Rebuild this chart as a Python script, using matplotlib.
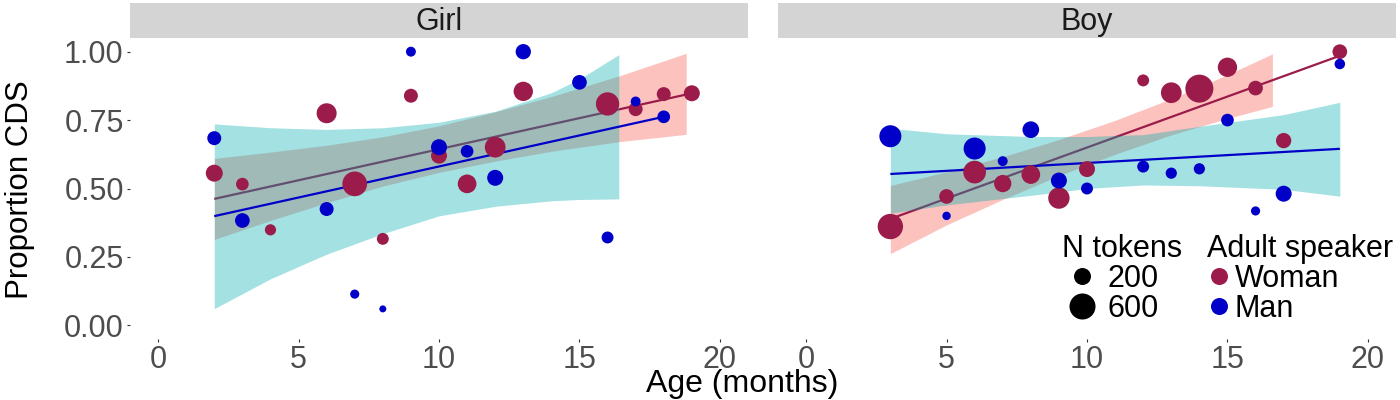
import numpy as np
import matplotlib
matplotlib.use("Agg")
import matplotlib.pyplot as plt
from matplotlib.lines import Line2D

plt.rcParams['font.family'] = ['Liberation Sans', 'DejaVu Sans']

# ---- data ----
girl_woman_age = [2, 3, 4, 6, 7, 8, 9, 10, 11, 12, 13, 16, 17, 18, 19]
girl_woman_cds = [0.556, 0.516, 0.349, 0.775, 0.517, 0.316, 0.839, 0.620, 0.517, 0.651, 0.855, 0.809, 0.790, 0.845, 0.848]
girl_woman_tok = [200, 97, 75, 306, 527, 85, 122, 171, 257, 334, 280, 453, 122, 122, 171]

girl_man_age = [2, 3, 6, 7, 8, 9, 10, 11, 12, 13, 15, 16, 17, 18]
girl_man_cds = [0.684, 0.383, 0.425, 0.114, 0.060, 1.00, 0.651, 0.636, 0.539, 1.00, 0.888, 0.321, 0.818, 0.762]
girl_man_tok = [122, 138, 122, 55, 48, 61, 171, 97, 171, 153, 138, 85, 61, 97]

boy_woman_age = [3, 5, 6, 7, 8, 9, 10, 12, 13, 14, 15, 16, 17, 19]
boy_woman_cds = [0.361, 0.471, 0.560, 0.518, 0.551, 0.465, 0.571, 0.895, 0.850, 0.865, 0.943, 0.867, 0.675, 1.00]
boy_woman_tok = [561, 138, 424, 210, 257, 362, 171, 85, 334, 720, 280, 138, 153, 138]

boy_man_age = [3, 5, 6, 7, 8, 9, 10, 12, 13, 14, 15, 16, 17, 19]
boy_man_cds = [0.691, 0.400, 0.646, 0.600, 0.715, 0.529, 0.500, 0.580, 0.556, 0.572, 0.750, 0.418, 0.481, 0.955]
boy_man_tok = [392, 51, 392, 61, 191, 171, 85, 85, 75, 75, 97, 55, 171, 67]

# fitted lines (end points)
girl_woman_fit_age = [2, 19]
girl_woman_fit = [0.462, 0.848]
girl_man_fit_age = [2, 18]
girl_man_fit = [0.399, 0.762]
boy_woman_fit_age = [3, 19]
boy_woman_fit = [0.389, 0.985]
boy_man_fit_age = [3, 19]
boy_man_fit = [0.553, 0.645]

# confidence bands
girl_woman_band_age = [2, 4, 6, 8, 10, 12, 14, 16.4, 18.8]
girl_woman_band_hi = [0.610, 0.633, 0.658, 0.689, 0.729, 0.780, 0.836, 0.911, 0.994]
girl_woman_band_lo = [0.314, 0.383, 0.448, 0.509, 0.559, 0.600, 0.636, 0.671, 0.698]
girl_man_band_age = [2, 4, 6, 8, 10, 12, 14, 15, 16.4]
girl_man_band_hi = [0.736, 0.722, 0.716, 0.722, 0.742, 0.782, 0.850, 0.900, 0.989]
girl_man_band_lo = [0.061, 0.170, 0.260, 0.335, 0.400, 0.435, 0.455, 0.460, 0.462]
boy_woman_band_age = [3, 5, 7, 9, 11, 13, 15, 16.6]
boy_woman_band_hi = [0.511, 0.561, 0.616, 0.679, 0.749, 0.828, 0.916, 0.992]
boy_woman_band_lo = [0.262, 0.367, 0.460, 0.547, 0.625, 0.696, 0.756, 0.800]
boy_man_band_age = [3, 5, 8, 10, 12, 14, 17, 19]
boy_man_band_hi = [0.720, 0.700, 0.690, 0.690, 0.697, 0.727, 0.770, 0.815]
boy_man_band_lo = [0.410, 0.440, 0.475, 0.500, 0.513, 0.510, 0.497, 0.472]

panels = ["Girl", "Boy"]
speakers = ["Woman", "Man"]
size_breaks = [200, 600]
x_ticks = [0, 5, 10, 15, 20]
y_ticks = [0.0, 0.25, 0.5, 0.75, 1.0]

woman_col = "#9B1C4B"
man_col = "#0000C8"
woman_fill = "#F8766D"
man_fill = "#00ACB0"

all_tok = girl_woman_tok + girl_man_tok + boy_woman_tok + boy_man_tok
tok_min, tok_max = min(all_tok), max(all_tok)


def tok_diam(n):
    # area-style size scale, diameter in points (7px .. 28px)
    n = np.asarray(n, dtype=float)
    frac = np.sqrt(np.clip((n - tok_min) / (tok_max - tok_min), 0, None))
    return (7 + 21 * frac) * 0.72


fig = plt.figure(figsize=(14, 4), dpi=100)
W, H = 1400, 400
ax_l = fig.add_axes([130 / W, 1 - 339 / H, 618 / W, 301 / H])
ax_r = fig.add_axes([778 / W, 1 - 339 / H, 618 / W, 301 / H])

data = {
    "Girl": [
        (girl_woman_age, girl_woman_cds, girl_woman_tok, girl_woman_fit_age, girl_woman_fit,
         girl_woman_band_age, girl_woman_band_lo, girl_woman_band_hi),
        (girl_man_age, girl_man_cds, girl_man_tok, girl_man_fit_age, girl_man_fit,
         girl_man_band_age, girl_man_band_lo, girl_man_band_hi),
    ],
    "Boy": [
        (boy_woman_age, boy_woman_cds, boy_woman_tok, boy_woman_fit_age, boy_woman_fit,
         boy_woman_band_age, boy_woman_band_lo, boy_woman_band_hi),
        (boy_man_age, boy_man_cds, boy_man_tok, boy_man_fit_age, boy_man_fit,
         boy_man_band_age, boy_man_band_lo, boy_man_band_hi),
    ],
}
cols = [woman_col, man_col]
fills = [woman_fill, man_fill]
alphas = [0.44, 0.36]

for ax, name in zip([ax_l, ax_r], panels):
    groups = data[name]
    # ribbons + lines per group (woman first, then man)
    for (age, cds, tok, fa, fv, ba, blo, bhi), c, f, a in zip(groups, cols, fills, alphas):
        ax.fill_between(ba, blo, bhi, color=f, alpha=a, lw=0, zorder=1)
        ax.plot(fa, fv, color=c, lw=1.6, zorder=1, solid_capstyle="butt")
    for (age, cds, tok, *_), c in zip(groups, cols):
        ax.scatter(age, cds, s=tok_diam(tok) ** 2, color=c, edgecolors="none", zorder=3)

    ax.set_xlim(-1, 21)
    ax.set_ylim(-0.05, 1.05)
    ax.set_xticks(x_ticks)
    ax.set_xticklabels([str(t) for t in x_ticks])
    for s in ax.spines.values():
        s.set_visible(False)
    ax.tick_params(length=2.5, width=0.8, color="#333333", labelcolor="#4D4D4D",
                   labelsize=22, pad=2)

    # strip
    pos = ax.get_position()
    strip = fig.add_axes([pos.x0, 1 - 38 / H, pos.width, 35 / H])
    strip.set_facecolor("#D4D4D4")
    strip.set_xticks([])
    strip.set_yticks([])
    for s in strip.spines.values():
        s.set_visible(False)
    strip.text(0.5, 0.45, name, ha="center", va="center", fontsize=22, color="#1A1A1A")

ax_l.set_yticks(y_ticks)
ax_l.set_yticklabels(["%.2f" % t for t in y_ticks])
ax_r.set_yticks([])

fig.text(742 / W, 1 - 384 / H, "Age (months)", ha="center", va="center", fontsize=23)
fig.text(20 / W, 1 - 190 / H, "Proportion CDS", ha="center", va="center",
         rotation=90, fontsize=22.5)

# legends
size_handles = [Line2D([], [], marker="o", ls="", color="black", markeredgewidth=0,
                       markersize=float(tok_diam(b))) for b in size_breaks]
leg1 = fig.legend(size_handles, [str(b) for b in size_breaks], title="N tokens",
                  loc="upper left", bbox_to_anchor=(1062 / W, 1 - 234 / H),
                  frameon=False, fontsize=22, title_fontsize=22, alignment="left",
                  handlelength=1.3, handletextpad=0.2, labelspacing=0.0,
                  borderpad=0, borderaxespad=0)
col_handles = [Line2D([], [], marker="o", ls="", color=c, markeredgewidth=0,
                      markersize=17 * 0.72) for c in cols]
leg2 = fig.legend(col_handles, speakers, title="Adult speaker",
                  loc="upper left", bbox_to_anchor=(1207 / W, 1 - 234 / H),
                  frameon=False, fontsize=22, title_fontsize=22, alignment="left",
                  handlelength=0.8, handletextpad=0.1, labelspacing=0.0,
                  borderpad=0, borderaxespad=0)

fig.savefig("out.png", dpi=100)
